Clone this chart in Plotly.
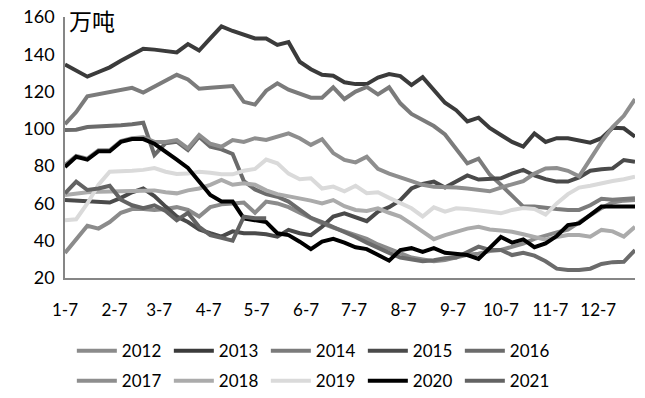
import datetime as dt
import plotly.graph_objects as go

# ---- data (万吨, weekly from 1-7) ----
years = ["2012", "2013", "2014", "2015", "2016", "2017", "2018", "2019", "2020", "2021"]
tick_labels = ["1-7", "2-7", "3-7", "4-7", "5-7", "6-7", "7-7", "8-7", "9-7", "10-7", "11-7", "12-7"]
y_ticks = [20, 40, 60, 80, 100, 120, 140, 160]

v2012 = [33.4, 41, 48, 46.5, 50, 55, 57, 57, 56.5, 57, 58, 56.5, 53, 58, 59.5, 60, 60.5, 55, 61, 60,
         58, 55, 52, 49.3, 47, 45, 43, 41, 38, 35.5, 33, 31, 30, 29, 29.7, 31, 32.5, 33, 34.5, 35,
         36.5, 38.5, 41, 43, 44.5, 46, 50, 54, 57.5, 60.5, 61.5, 61.8]
v2013 = [134.5, 131, 128, 130.5, 133, 136.5, 140, 143, 142.5, 141.5, 141, 145.5, 142, 148.5, 155, 152.5,
         150.5, 148.5, 148.5, 145, 146.5, 136, 132, 129, 128.5, 125, 124, 124, 127.5, 129.4, 128.3, 123.5,
         127.7, 121, 114, 110, 104, 106, 100.5, 96.7, 93, 90.5, 97.5, 93, 95, 95, 94, 92.6, 95, 100.6,
         100.3, 95.8]
v2014 = [102.5, 109, 117.5, 118.5, 119.5, 120.5, 122, 119.5, 122.5, 126, 129, 126.5, 121.5, 122, 122.5,
         123, 114.5, 113, 120.5, 124.4, 121, 119, 116.7, 116.7, 122.3, 116, 120, 122.5, 118.5, 122.3,
         113.7, 108, 104.5, 101.5, 97, 89, 81.5, 84, 75.5, 70, 64, 58.3, 58.3, 57.5, 57, 56.5, 56.5, 59,
         62.5, 62, 62.5, 62.8]
v2015 = [61.8, 61.5, 61, 61, 60.5, 63, 66, 68, 64, 58.3, 53, 50, 46, 44, 42.2, 45, 44, 44, 43.5, 42.2,
         45.8, 44, 43, 47.5, 53, 54.7, 52.5, 50.5, 55.6, 58, 61.8, 68, 70.5, 71.7, 68.5, 72, 75, 72.8, 73,
         73.5, 76, 78, 75, 73, 71.7, 71.7, 74, 77.5, 78.3, 78.8, 83.3, 82.4]
v2016 = [99.4, 99.5, 101, 101.2, 101.5, 102, 102.5, 103.3, 86, 92.3, 93.1, 88.7, 95.8, 90.4, 89, 86.5,
         72, 67.5, 65, 63.6, 61, 56.5, 52.3, 50, 47.5, 45, 42, 39, 36, 33.5, 31, 30, 29, 29.5, 30.6, 31,
         34, 36.8, 35, 35, 32.3, 33.5, 32, 29, 25, 24.3, 24.3, 25, 27.5, 28.5, 28.7, 35]
v2017 = [80.5, 85.5, 84, 88.5, 88.5, 93.5, 95, 95.5, 93, 93, 94, 89.6, 96.7, 92, 90.4, 94, 93, 95, 94,
         95.8, 97.6, 95, 91.4, 94.4, 87, 83.3, 82, 85, 78.5, 76, 74, 71.5, 70, 69, 69, 68.5, 68, 67, 66.5,
         68.5, 70.5, 72, 76, 78.8, 79, 77.5, 74.5, 84, 93, 101, 107, 116]
v2018 = [64.5, 65.5, 66, 66.3, 66.5, 66.8, 67, 67, 67, 66, 65.4, 67, 68, 70, 72.6, 70, 70.8, 70, 67, 65,
         64, 63, 61.5, 60, 61.8, 58.5, 56.5, 56, 57.4, 55, 53, 49, 45, 40.8, 43, 45, 46.5, 47.5, 46, 45.5,
         44.8, 43.5, 42, 40.5, 42, 43, 43, 42.2, 45.8, 45, 42.2, 47.5]
v2019 = [51, 51.5, 60, 70, 77, 77, 77.5, 78, 79, 77, 75.8, 76, 77, 76.5, 75.6, 75.6, 77.5, 78.5, 83.5,
         81.5, 76, 73, 73.5, 68, 69, 66.5, 69.5, 65.5, 66, 63, 60, 57.4, 53, 57.9, 55.6, 57.4, 57, 56.5,
         55.5, 54.7, 56.5, 57.5, 57, 54, 60, 65, 68.5, 69.5, 71, 72, 73, 74.4]
v2020 = [79.5, 85, 83.5, 88, 88, 93, 94.5, 94.5, 92, 88, 83.5, 79, 71.5, 64.5, 61, 61, 52, 51, 50, 44,
         43, 39.5, 35.5, 39.5, 41, 39, 36.5, 35.5, 32.5, 29.3, 35, 36, 34, 36, 33.5, 33, 32.3, 30.2, 36,
         42, 39, 40.7, 36.5, 38.5, 42.5, 48.4, 49.3, 54, 58.3, 58.3, 58.3, 58.3]
v2021 = [65.4, 71.7, 67.2, 68, 69.5, 62, 59, 57.5, 59, 56, 51, 54.9, 47.5, 43, 41.5, 40, 52.9, 52, 52]

series = [v2012, v2013, v2014, v2015, v2016, v2017, v2018, v2019, v2020, v2021]
colors = ["#8b8b8b", "#3b3b3b", "#7b7b7b", "#4a4a4a", "#6b6b6b",
          "#8e8e8e", "#ababab", "#dadada", "#000000", "#636363"]

start = dt.date(2021, 1, 7)
weeks = [start + dt.timedelta(days=7 * i) for i in range(52)]
tick_vals = [dt.date(2021, m, 7) for m in range(1, 13)]

fig = go.Figure()
for i, (name, vals, col) in enumerate(zip(years, series, colors)):
    fig.add_trace(go.Scatter(
        x=weeks[:len(vals)], y=vals, name=name, mode="lines",
        line=dict(color=col, width=4), cliponaxis=False,
        legend="legend" if i < 5 else "legend2",
    ))

font_family = "Lato, 'DejaVu Sans', sans-serif"
legend_common = dict(
    orientation="h", xanchor="left", yanchor="middle",
    entrywidth=42, entrywidthmode="pixels", itemwidth=40,
    font=dict(family=font_family, size=17, color="#000000"),
    bgcolor="rgba(0,0,0,0)", borderwidth=0, traceorder="normal",
)

fig.update_layout(
    width=645, height=398,
    margin=dict(l=65, r=10, t=17, b=120, pad=0, autoexpand=False),
    paper_bgcolor="#ffffff", plot_bgcolor="#ffffff",
    showlegend=True,
    legend=dict(x=0.012, y=-0.28, **legend_common),
    legend2=dict(x=0.012, y=-0.395, **legend_common),
    xaxis=dict(
        range=[dt.date(2021, 1, 7), dt.date(2021, 12, 30)],
        tickvals=tick_vals, ticktext=tick_labels,
        showgrid=False, zeroline=False, showline=True, linecolor="#868686", linewidth=1.5,
        ticks="", tickfont=dict(family=font_family, size=17, color="#000000"),
        ticklabelstandoff=16, ticklabeloverflow="allow",
    ),
    yaxis=dict(
        range=[20, 160], tickvals=y_ticks,
        showgrid=False, zeroline=False, showline=True, linecolor="#868686", linewidth=1.5,
        ticks="", tickfont=dict(family=font_family, size=18, color="#000000"),
        ticklabelstandoff=5, ticklabeloverflow="allow",
    ),
    annotations=[dict(
        text="万吨", xref="paper", yref="paper", x=0.004, y=0.99,
        xanchor="left", yanchor="middle", showarrow=False,
        font=dict(family="'Noto Sans CJK SC', sans-serif", size=23, color="#000000"),
    )],
)

# remove the browser's default 8px body margin so the figure fills the window exactly
fig.write_html("out.html", config={"displayModeBar": False},
               post_script="document.body.style.margin='0px';")
